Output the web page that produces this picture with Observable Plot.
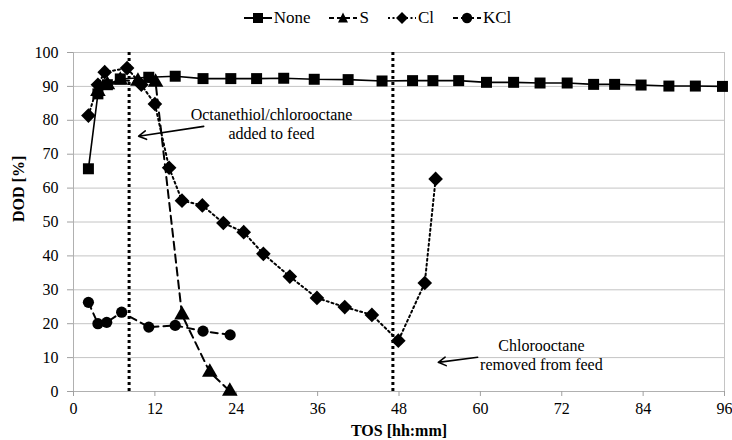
<!DOCTYPE html>
<html>
<head>
<meta charset="utf-8">
<script src="https://cdn.jsdelivr.net/npm/d3@7"></script>
<script src="https://cdn.jsdelivr.net/npm/@observablehq/plot@0.6"></script>
<style>
  body { margin: 0; background: #fff; font-family: "Liberation Serif", serif; }
  #legend { height: 36px; display: flex; justify-content: center; align-items: center; gap: 18px; font-size: 17px; padding-left: 22px; box-sizing: border-box; }
  #legend .item { display: flex; align-items: center; }
</style>
</head>
<body>
<div id="legend"></div>
<div id="chart"></div>
<script>
// ---- data ----
const noneX = [2.2, 3.6, 5, 6.9, 11.1, 15, 19.1, 23.2, 27, 31, 35.5, 40.5, 45.5, 50, 53, 56.8, 60.9, 64.9, 68.8, 72.8, 76.7, 79.8, 83.7, 87.8, 91.7, 95.7];
const noneY = [65.7, 87.8, 90.5, 92.2, 92.7, 93, 92.3, 92.3, 92.3, 92.4, 92.1, 92, 91.6, 91.7, 91.7, 91.7, 91.2, 91.2, 91.0, 91.0, 90.6, 90.6, 90.4, 90.1, 90.1, 90.0];
const sX = [3.6, 5, 6.9, 9.5, 12.1, 16, 20.1, 23.05];
const sY = [88.5, 90.5, 91.8, 91.5, 91.2, 22.6, 5.7, 0.1];
const clX = [2.2, 3.6, 4.6, 7.9, 10, 12, 14.1, 16, 19, 22.1, 25.1, 28, 31.9, 35.9, 40, 44, 47.9, 51.8, 53.4];
const clY = [81.4, 90.5, 94.2, 95.4, 90.5, 84.8, 66, 56.3, 54.9, 49.7, 47, 40.6, 33.9, 27.6, 24.9, 22.6, 15, 32, 62.7];
const kclX = [2.2, 3.6, 4.9, 7.1, 11.1, 15, 19.1, 23.1];
const kclY = [26.3, 20, 20.4, 23.4, 19, 19.5, 17.8, 16.7];
const eventX = [8.2, 47.1];
const xTicks = [0, 12, 24, 36, 48, 60, 72, 84, 96];
const yTicks = [0, 10, 20, 30, 40, 50, 60, 70, 80, 90, 100];
const xLabel = "TOS [hh:mm]";
const yLabel = "DOD [%]";
const noteText = ["Octanethiol/chlorooctane\nadded to feed", "Chlorooctane\nremoved from feed"];
const noteX = [29.2, 69.0];
const noteY = [79.2, 10.9];
const arrowX1 = [19.2, 59.6], arrowY1 = [78.2, 10.1];
const arrowX2 = [9.6, 53.8], arrowY2 = [75.3, 8.6];

const FONT = "Liberation Serif";

const series = [
  {name: "None", xs: noneX, ys: noneY, symbol: "square", r: 6.2, dash: null, width: 1.6},
  {name: "S", xs: sX, ys: sY, symbol: "triangle", r: 5.8, dash: "8,5", width: 2},
  {name: "Cl", xs: clX, ys: clY, symbol: "diamond2", r: 6.6, dash: "2,3", width: 2},
  {name: "KCl", xs: kclX, ys: kclY, symbol: "circle", r: 5.6, dash: "7,5", width: 2}
];
const toRows = s => s.xs.map((x, i) => ({x, y: s.ys[i]}));

const marks = [
  Plot.gridY(yTicks, {stroke: "#c4c4c4", strokeOpacity: 1}),
  Plot.ruleX([96], {y1: 0, y2: 100, stroke: "#c4c4c4"}),
  Plot.ruleX([0], {y1: 0, y2: 100, stroke: "#b0b0b0"}),
  Plot.ruleY([0], {stroke: "#b0b0b0"}),
  Plot.axisX(xTicks, {tickSize: 5, tickPadding: 6, stroke: "#a0a0a0", fill: "black", fontSize: 16, label: null, fontFamily: FONT}),
  Plot.axisY(yTicks, {tickSize: 6, tickPadding: 9, stroke: "#a0a0a0", fill: "black", fontSize: 16, label: null, fontFamily: FONT}),
  Plot.text([xLabel], {frameAnchor: "bottom", dy: 44, fontSize: 16, fontWeight: "bold", fill: "black", fontFamily: FONT}),
  Plot.text([yLabel], {frameAnchor: "left", dx: -55, rotate: -90, fontSize: 16, fontWeight: "bold", fill: "black", fontFamily: FONT}),
  Plot.ruleX(eventX, {y1: 0, y2: 100, stroke: "black", strokeWidth: 3, strokeDasharray: "3,3"})
];
for (const s of series) {
  const rows = toRows(s);
  marks.push(Plot.line(rows, {x: "x", y: "y", stroke: "black", strokeWidth: s.width, strokeDasharray: s.dash}));
  marks.push(Plot.dot(rows, {x: "x", y: "y", symbol: s.symbol, r: s.r, fill: "black", stroke: "none"}));
}
const notes = noteText.map((t, i) => ({t, x: noteX[i], y: noteY[i]}));
marks.push(Plot.text(notes, {x: "x", y: "y", text: "t", fontSize: 16, lineHeight: 1.2, fill: "black", textAnchor: "middle", fontFamily: FONT}));
const arrows = arrowX1.map((x1, i) => ({x1, y1: arrowY1[i], x2: arrowX2[i], y2: arrowY2[i]}));
marks.push(Plot.arrow(arrows, {x1: "x1", y1: "y1", x2: "x2", y2: "y2", stroke: "black", strokeWidth: 1.6, headLength: 8, bend: 0}));

const chart = Plot.plot({
  width: 732,
  height: 404,
  marginTop: 16,
  marginBottom: 49,
  marginLeft: 73,
  marginRight: 8,
  style: {fontFamily: FONT, fontSize: "16px", background: "white", color: "black"},
  x: {domain: [0, 96], ticks: xTicks},
  y: {domain: [0, 100], ticks: yTicks},
  marks
});
document.getElementById("chart").appendChild(chart);

// ---- legend ----
const legend = document.getElementById("legend");
const sym = {
  square: '<rect x="10" y="4" width="10" height="10" fill="black"/>',
  triangle: '<polygon points="15,3.5 20,13.5 10,13.5" fill="black"/>',
  diamond2: '<polygon points="15,3 21,9 15,15 9,9" fill="black"/>',
  circle: '<circle cx="15" cy="9" r="5.2" fill="black"/>'
};
for (const s of series) {
  const div = document.createElement("div");
  div.className = "item";
  const dash = s.dash ? `stroke-dasharray="${s.name === "Cl" ? "2,2.5" : "5,3"}"` : "";
  div.innerHTML = `<svg width="30" height="18" style="margin-right:1px"><line x1="1" y1="9" x2="29" y2="9" stroke="black" stroke-width="2" ${dash}/>${sym[s.symbol]}</svg><span>${s.name}</span>`;
  legend.appendChild(div);
}
</script>
</body>
</html>
